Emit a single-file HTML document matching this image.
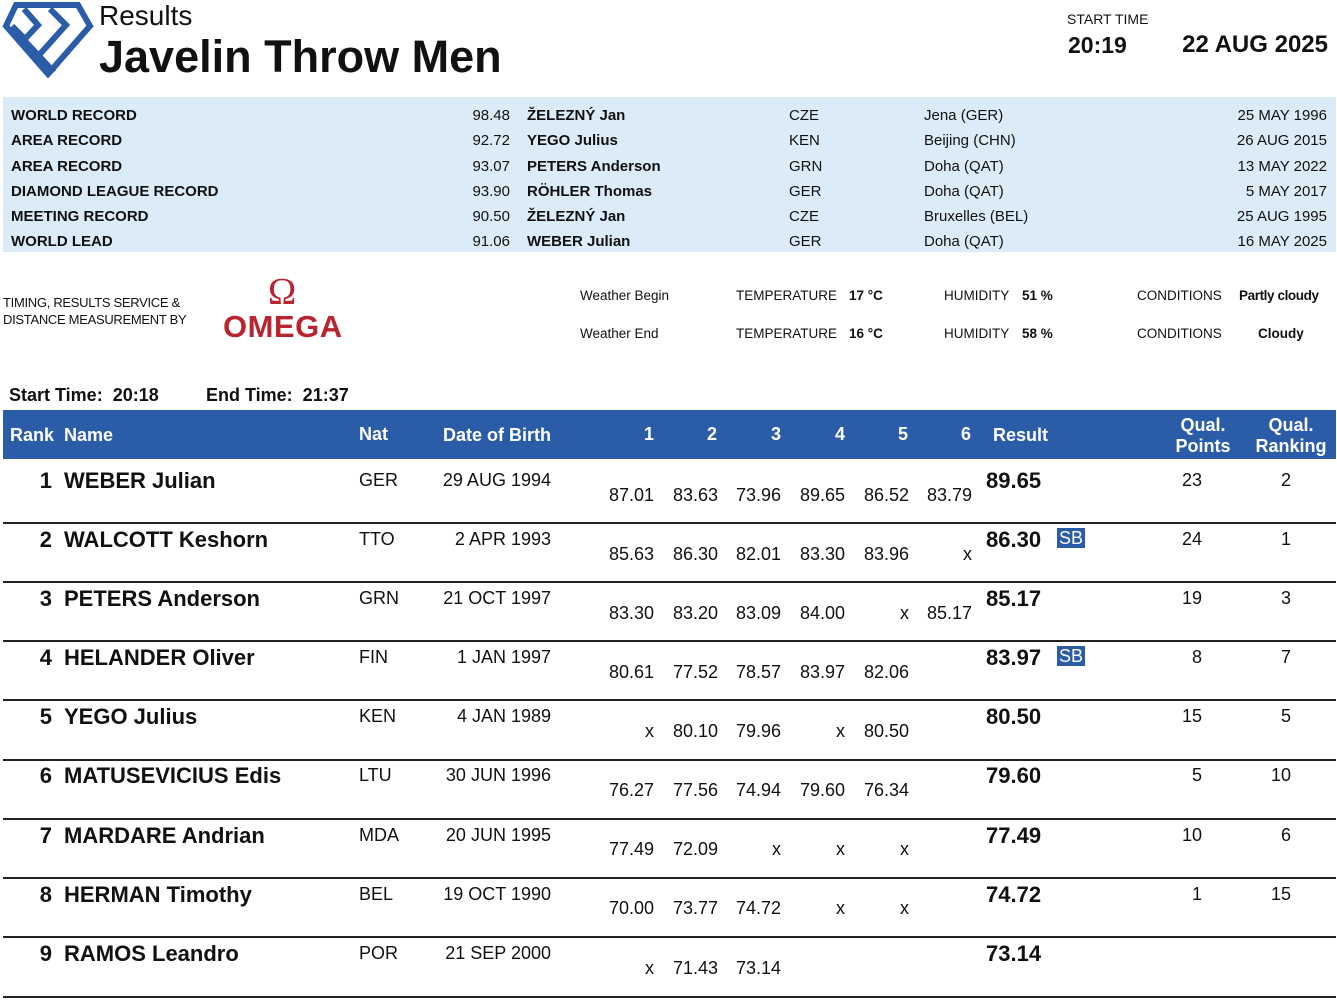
<!DOCTYPE html>
<html><head><meta charset="utf-8"><style>
body{margin:0;width:1337px;height:1003px;background:#fff;position:relative;overflow:hidden;font-family:"Liberation Sans",sans-serif;color:#111}
.t{position:absolute;white-space:nowrap;line-height:1}
.r{text-align:right}
.b{font-weight:bold}
.rec{font-size:15px}
.w{font-size:13.5px}
.hd{color:#fff;font-size:18px;font-weight:bold}
.nm{font-size:22px;font-weight:bold}
.s{font-size:18px}
.line{position:absolute;left:3px;width:1333px;height:2px;background:#222}
.sb{background:#2a5ca8;color:#fff;padding:1px 2px;font-size:18px}
</style></head><body>
<svg style="position:absolute;left:2px;top:2px" width="92" height="76" viewBox="0 0 92 76">
<g fill="none" stroke="#2a5ca8" stroke-width="6">
<polygon points="14,3 76,3 88,24 46,72 4,24"/>
<polyline points="22,7 36,23 22,38 52,70"/>
<polyline points="48,7 64,23 38,52"/>
<polyline points="10,24 22,36"/>
</g></svg>
<div class="t" style="left:99px;top:2px;font-size:28px">Results</div>
<div class="t b" style="left:99px;top:34px;font-size:45px">Javelin Throw Men</div>
<div class="t" style="left:1067px;top:12px;font-size:14px">START TIME</div>
<div class="t b" style="left:1068px;top:34px;font-size:23px">20:19</div>
<div class="t r b" style="right:9px;top:33px;font-size:24px">22 AUG 2025</div>

<div style="position:absolute;left:3px;top:97px;width:1333px;height:155px;background:#dcebf8"></div>
<div class="t b rec" style="left:11px;top:103px;line-height:25.3px">WORLD RECORD<br>AREA RECORD<br>AREA RECORD<br>DIAMOND LEAGUE RECORD<br>MEETING RECORD<br>WORLD LEAD</div>
<div class="t r rec" style="right:827px;top:103px;line-height:25.3px">98.48<br>92.72<br>93.07<br>93.90<br>90.50<br>91.06</div>
<div class="t b rec" style="left:527px;top:103px;line-height:25.3px">ŽELEZNÝ Jan<br>YEGO Julius<br>PETERS Anderson<br>RÖHLER Thomas<br>ŽELEZNÝ Jan<br>WEBER Julian</div>
<div class="t rec" style="left:789px;top:103px;line-height:25.3px">CZE<br>KEN<br>GRN<br>GER<br>CZE<br>GER</div>
<div class="t rec" style="left:924px;top:103px;line-height:25.3px">Jena (GER)<br>Beijing (CHN)<br>Doha (QAT)<br>Doha (QAT)<br>Bruxelles (BEL)<br>Doha (QAT)</div>
<div class="t r rec" style="right:10px;top:103px;line-height:25.3px">25 MAY 1996<br>26 AUG 2015<br>13 MAY 2022<br>5 MAY 2017<br>25 AUG 1995<br>16 MAY 2025</div>

<div class="t" style="left:3px;top:294px;font-size:13px;line-height:17px;letter-spacing:-0.3px">TIMING, RESULTS SERVICE &amp;<br>DISTANCE MEASUREMENT BY</div>
<div class="t" style="left:268px;top:273px;font-size:38px;color:#b8242f;font-family:'Liberation Serif',serif">Ω</div>
<div class="t b" style="left:223px;top:311px;font-size:31px;color:#b8242f;letter-spacing:0.5px">OMEGA</div>

<div class="t w" style="left:580px;top:289px">Weather Begin</div>
<div class="t w" style="left:580px;top:327px">Weather End</div>
<div class="t w" style="left:736px;top:289px">TEMPERATURE</div>
<div class="t w" style="left:736px;top:327px">TEMPERATURE</div>
<div class="t w b" style="left:849px;top:289px">17 °C</div>
<div class="t w b" style="left:849px;top:327px">16 °C</div>
<div class="t w" style="left:944px;top:289px">HUMIDITY</div>
<div class="t w" style="left:944px;top:327px">HUMIDITY</div>
<div class="t w b" style="left:1022px;top:289px">51 %</div>
<div class="t w b" style="left:1022px;top:327px">58 %</div>
<div class="t w" style="left:1137px;top:289px">CONDITIONS</div>
<div class="t w" style="left:1137px;top:327px">CONDITIONS</div>
<div class="t w b" style="left:1239px;top:289px;letter-spacing:-0.4px">Partly cloudy</div>
<div class="t w b" style="left:1258px;top:327px">Cloudy</div>

<div class="t b" style="left:9px;top:386px;font-size:18px">Start Time:&nbsp; 20:18</div>
<div class="t b" style="left:206px;top:386px;font-size:18px">End Time:&nbsp; 21:37</div>

<div style="position:absolute;left:3px;top:410px;width:1333px;height:49px;background:#2a5ca8"></div>
<div class="t hd" style="left:10px;top:426px">Rank</div>
<div class="t hd" style="left:64px;top:426px">Name</div>
<div class="t hd" style="left:359px;top:425px">Nat</div>
<div class="t hd" style="left:443px;top:426px">Date of Birth</div>
<div class="t hd" style="left:644px;top:425px">1</div>
<div class="t hd" style="left:707px;top:425px">2</div>
<div class="t hd" style="left:771px;top:425px">3</div>
<div class="t hd" style="left:835px;top:425px">4</div>
<div class="t hd" style="left:898px;top:425px">5</div>
<div class="t hd" style="left:961px;top:425px">6</div>
<div class="t hd" style="left:993px;top:426px">Result</div>
<div class="t hd" style="left:1163px;top:415px;width:80px;text-align:center;line-height:21px">Qual.<br>Points</div>
<div class="t hd" style="left:1246px;top:415px;width:90px;text-align:center;line-height:21px">Qual.<br>Ranking</div>

<div class="t nm r" style="right:1285px;top:470px">1</div><div class="t nm" style="left:64px;top:470px">WEBER Julian</div>
<div class="t s" style="left:359px;top:471px">GER</div><div class="t s r" style="right:786px;top:471px">29 AUG 1994</div>
<div class="t s r" style="right:683px;top:486px">87.01</div><div class="t s r" style="right:619px;top:486px">83.63</div><div class="t s r" style="right:556px;top:486px">73.96</div><div class="t s r" style="right:492px;top:486px">89.65</div><div class="t s r" style="right:428px;top:486px">86.52</div><div class="t s r" style="right:365px;top:486px">83.79</div>
<div class="t nm" style="left:986px;top:470px">89.65</div>
<div class="t s" style="left:1142px;width:100px;text-align:center;top:471px">23</div><div class="t s" style="left:1236px;width:100px;text-align:center;top:471px">2</div>
<div class="line" style="top:522px"></div>

<div class="t nm r" style="right:1285px;top:529px">2</div><div class="t nm" style="left:64px;top:529px">WALCOTT Keshorn</div>
<div class="t s" style="left:359px;top:530px">TTO</div><div class="t s r" style="right:786px;top:530px">2 APR 1993</div>
<div class="t s r" style="right:683px;top:545px">85.63</div><div class="t s r" style="right:619px;top:545px">86.30</div><div class="t s r" style="right:556px;top:545px">82.01</div><div class="t s r" style="right:492px;top:545px">83.30</div><div class="t s r" style="right:428px;top:545px">83.96</div><div class="t s r" style="right:365px;top:545px">x</div>
<div class="t nm" style="left:986px;top:529px">86.30</div><div class="t sb" style="left:1057px;top:528px">SB</div>
<div class="t s" style="left:1142px;width:100px;text-align:center;top:530px">24</div><div class="t s" style="left:1236px;width:100px;text-align:center;top:530px">1</div>
<div class="line" style="top:581px"></div>

<div class="t nm r" style="right:1285px;top:588px">3</div><div class="t nm" style="left:64px;top:588px">PETERS Anderson</div>
<div class="t s" style="left:359px;top:589px">GRN</div><div class="t s r" style="right:786px;top:589px">21 OCT 1997</div>
<div class="t s r" style="right:683px;top:604px">83.30</div><div class="t s r" style="right:619px;top:604px">83.20</div><div class="t s r" style="right:556px;top:604px">83.09</div><div class="t s r" style="right:492px;top:604px">84.00</div><div class="t s r" style="right:428px;top:604px">x</div><div class="t s r" style="right:365px;top:604px">85.17</div>
<div class="t nm" style="left:986px;top:588px">85.17</div>
<div class="t s" style="left:1142px;width:100px;text-align:center;top:589px">19</div><div class="t s" style="left:1236px;width:100px;text-align:center;top:589px">3</div>
<div class="line" style="top:640px"></div>

<div class="t nm r" style="right:1285px;top:647px">4</div><div class="t nm" style="left:64px;top:647px">HELANDER Oliver</div>
<div class="t s" style="left:359px;top:648px">FIN</div><div class="t s r" style="right:786px;top:648px">1 JAN 1997</div>
<div class="t s r" style="right:683px;top:663px">80.61</div><div class="t s r" style="right:619px;top:663px">77.52</div><div class="t s r" style="right:556px;top:663px">78.57</div><div class="t s r" style="right:492px;top:663px">83.97</div><div class="t s r" style="right:428px;top:663px">82.06</div>
<div class="t nm" style="left:986px;top:647px">83.97</div><div class="t sb" style="left:1057px;top:646px">SB</div>
<div class="t s" style="left:1147px;width:100px;text-align:center;top:648px">8</div><div class="t s" style="left:1236px;width:100px;text-align:center;top:648px">7</div>
<div class="line" style="top:699px"></div>

<div class="t nm r" style="right:1285px;top:706px">5</div><div class="t nm" style="left:64px;top:706px">YEGO Julius</div>
<div class="t s" style="left:359px;top:707px">KEN</div><div class="t s r" style="right:786px;top:707px">4 JAN 1989</div>
<div class="t s r" style="right:683px;top:722px">x</div><div class="t s r" style="right:619px;top:722px">80.10</div><div class="t s r" style="right:556px;top:722px">79.96</div><div class="t s r" style="right:492px;top:722px">x</div><div class="t s r" style="right:428px;top:722px">80.50</div>
<div class="t nm" style="left:986px;top:706px">80.50</div>
<div class="t s" style="left:1142px;width:100px;text-align:center;top:707px">15</div><div class="t s" style="left:1236px;width:100px;text-align:center;top:707px">5</div>
<div class="line" style="top:759px"></div>

<div class="t nm r" style="right:1285px;top:765px">6</div><div class="t nm" style="left:64px;top:765px">MATUSEVICIUS Edis</div>
<div class="t s" style="left:359px;top:766px">LTU</div><div class="t s r" style="right:786px;top:766px">30 JUN 1996</div>
<div class="t s r" style="right:683px;top:781px">76.27</div><div class="t s r" style="right:619px;top:781px">77.56</div><div class="t s r" style="right:556px;top:781px">74.94</div><div class="t s r" style="right:492px;top:781px">79.60</div><div class="t s r" style="right:428px;top:781px">76.34</div>
<div class="t nm" style="left:986px;top:765px">79.60</div>
<div class="t s" style="left:1147px;width:100px;text-align:center;top:766px">5</div><div class="t s" style="left:1231px;width:100px;text-align:center;top:766px">10</div>
<div class="line" style="top:818px"></div>

<div class="t nm r" style="right:1285px;top:825px">7</div><div class="t nm" style="left:64px;top:825px">MARDARE Andrian</div>
<div class="t s" style="left:359px;top:826px">MDA</div><div class="t s r" style="right:786px;top:826px">20 JUN 1995</div>
<div class="t s r" style="right:683px;top:840px">77.49</div><div class="t s r" style="right:619px;top:840px">72.09</div><div class="t s r" style="right:556px;top:840px">x</div><div class="t s r" style="right:492px;top:840px">x</div><div class="t s r" style="right:428px;top:840px">x</div>
<div class="t nm" style="left:986px;top:825px">77.49</div>
<div class="t s" style="left:1142px;width:100px;text-align:center;top:826px">10</div><div class="t s" style="left:1236px;width:100px;text-align:center;top:826px">6</div>
<div class="line" style="top:877px"></div>

<div class="t nm r" style="right:1285px;top:884px">8</div><div class="t nm" style="left:64px;top:884px">HERMAN Timothy</div>
<div class="t s" style="left:359px;top:885px">BEL</div><div class="t s r" style="right:786px;top:885px">19 OCT 1990</div>
<div class="t s r" style="right:683px;top:899px">70.00</div><div class="t s r" style="right:619px;top:899px">73.77</div><div class="t s r" style="right:556px;top:899px">74.72</div><div class="t s r" style="right:492px;top:899px">x</div><div class="t s r" style="right:428px;top:899px">x</div>
<div class="t nm" style="left:986px;top:884px">74.72</div>
<div class="t s" style="left:1147px;width:100px;text-align:center;top:885px">1</div><div class="t s" style="left:1231px;width:100px;text-align:center;top:885px">15</div>
<div class="line" style="top:936px"></div>

<div class="t nm r" style="right:1285px;top:943px">9</div><div class="t nm" style="left:64px;top:943px">RAMOS Leandro</div>
<div class="t s" style="left:359px;top:944px">POR</div><div class="t s r" style="right:786px;top:944px">21 SEP 2000</div>
<div class="t s r" style="right:683px;top:959px">x</div><div class="t s r" style="right:619px;top:959px">71.43</div><div class="t s r" style="right:556px;top:959px">73.14</div>
<div class="t nm" style="left:986px;top:943px">73.14</div>
<div class="line" style="top:996px"></div>
</body></html>
